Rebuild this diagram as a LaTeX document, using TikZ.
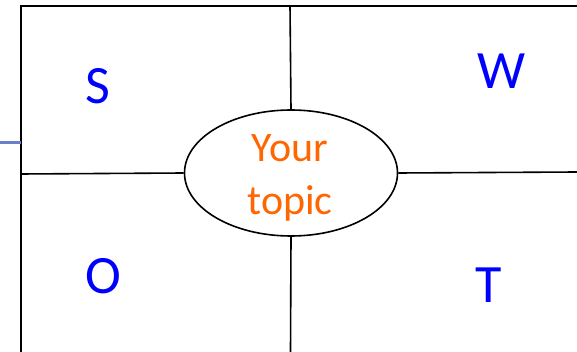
\documentclass[tikz,border=0pt]{standalone}
\usepackage{fontspec}
\setmainfont{Carlito}
\usetikzlibrary{shapes.geometric}
\definecolor{letterblue}{HTML}{0000FF}
\definecolor{topicorange}{HTML}{FF6600}
\definecolor{linkblue}{HTML}{6A7FC9}
\begin{document}
\begin{tikzpicture}[x=1pt,y=-1pt,
  frame/.style={draw=black,line width=2pt},
  divider/.style={draw=black,line width=1.6pt},
  letter/.style={text=letterblue,font=\fontsize{54}{54}\selectfont,inner sep=0pt},
  topic/.style={ellipse,draw=black,line width=1.6pt,minimum width=213pt,minimum height=126pt,inner sep=0pt},
  topictext/.style={text=topicorange,font=\fontsize{42}{50}\selectfont,align=center,inner sep=0pt}]
\useasboundingbox (0,0) rectangle (577,352);
\fill[white] (0,0) rectangle (577,352);
% frame corners
\coordinate (tr) at (577,6);
\coordinate (tl) at (20.5,6);
\coordinate (bl) at (20.5,352);
\draw[frame] (tr) -- (tl) -- (bl);
% centre ellipse
\node[topic] (topic) at (291,173) {};
\node[topictext] (topiclabel) at (290,178) {Your\\[3pt]topic};
% dividers
\coordinate (topmid) at (290,6);
\coordinate (botmid) at (290.5,352);
\coordinate (leftmid) at (20.5,174);
\coordinate (rightmid) at (577,172);
\draw[divider] (topmid) -- (topic.north);
\draw[divider] (topic.south) -- (botmid);
\draw[divider] (leftmid) -- (topic.west);
\draw[divider] (topic.east) -- (rightmid);
% side link
\coordinate (linkstart) at (0,143);
\coordinate (linkend) at (20.5,143);
\draw[linkblue,line width=3pt] (linkstart) -- (linkend);
% letters
\node[letter] (S) at (97.5,86) {S};
\node[letter] (W) at (502,71) {W};
\node[letter] (O) at (103,276) {O};
\node[letter] (T) at (489,285) {T};
\end{tikzpicture}
\end{document}
